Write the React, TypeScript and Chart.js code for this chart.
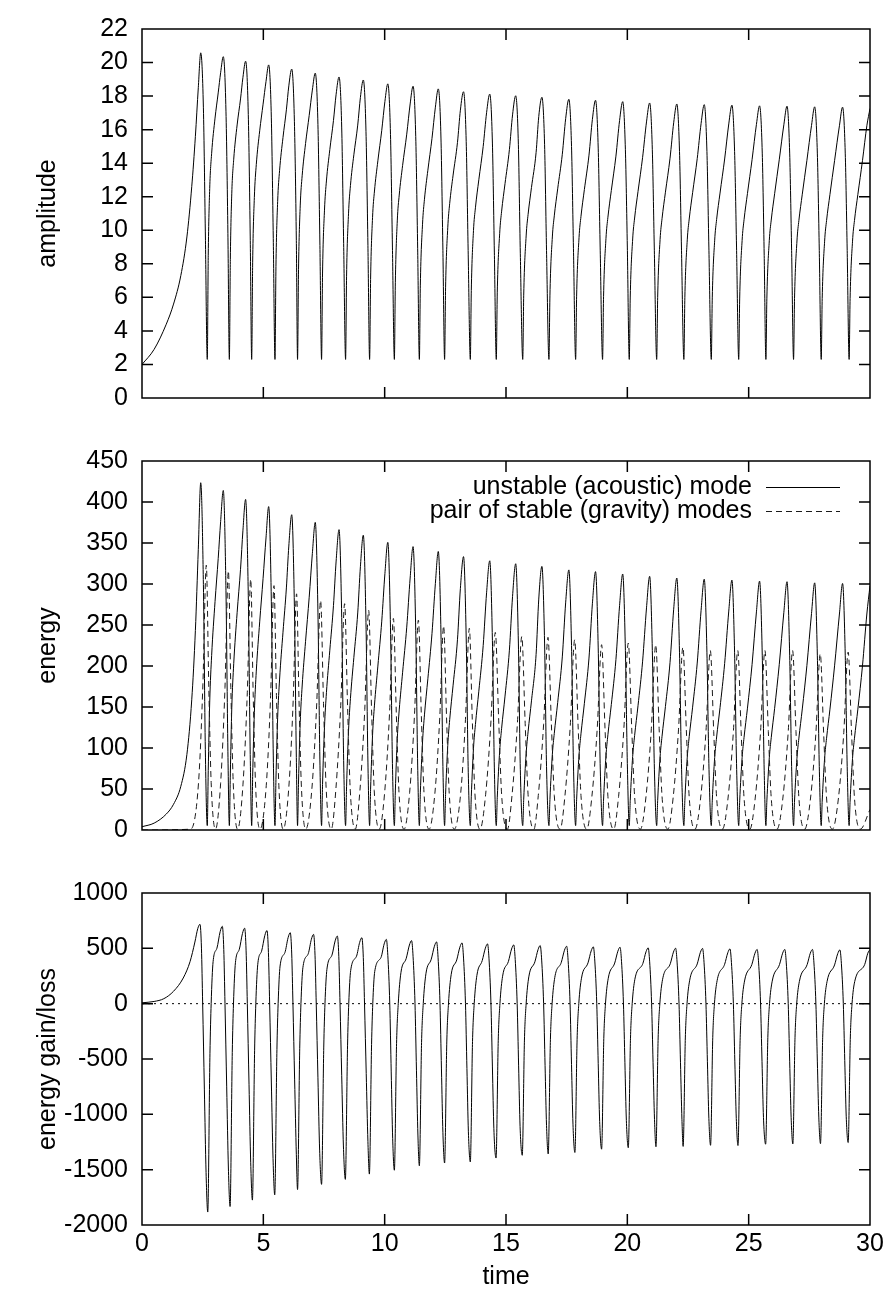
import { useEffect, useRef } from "react";
import { Chart, registerables } from "chart.js";

Chart.register(...registerables);

const FONT_FAMILY = '"Liberation Sans", Arial, Helvetica, sans-serif';
const FONT_SIZE = 25;

// ---- axis ticks ----
const timeTicks = [0, 5, 10, 15, 20, 25, 30];
const amplitudeTicks = [0, 2, 4, 6, 8, 10, 12, 14, 16, 18, 20, 22];
const energyTicks = [0, 50, 100, 150, 200, 250, 300, 350, 400, 450];
const gainTicks = [-2000, -1500, -1000, -500, 0, 500, 1000];

const seriesLabels = ["unstable (acoustic) mode", "pair of stable (gravity) modes"];

// ---- amplitude of the unstable mode (time, value); energy shares the same times ----
const amplitudeTime = [
  0, 0.5, 1.0, 1.3, 1.6, 1.85, 2.05, 2.2, 2.32, 2.42,
  2.53, 2.61, 2.69,
  2.73, 2.79, 2.87, 3.01, 3.14, 3.24, 3.35, 3.46, 3.54, 3.60,
  3.64, 3.70, 3.78, 3.92, 4.06, 4.16, 4.27, 4.38, 4.46, 4.52,
  4.56, 4.63, 4.71, 4.85, 4.99, 5.11, 5.22, 5.33, 5.41, 5.48,
  5.52, 5.59, 5.67, 5.81, 5.95, 6.05, 6.17, 6.28, 6.36, 6.41,
  6.45, 6.52, 6.60, 6.74, 6.89, 7.02, 7.14, 7.25, 7.33, 7.40,
  7.44, 7.52, 7.60, 7.74, 7.89, 8.00, 8.12, 8.23, 8.31, 8.39,
  8.43, 8.51, 8.59, 8.73, 8.89, 9.00, 9.12, 9.23, 9.31, 9.38,
  9.42, 9.50, 9.58, 9.72, 9.88, 10.01, 10.13, 10.24, 10.32, 10.40,
  10.44, 10.52, 10.60, 10.74, 10.91, 11.05, 11.17, 11.28, 11.36, 11.43,
  11.47, 11.56, 11.64, 11.78, 11.95, 12.09, 12.21, 12.32, 12.40, 12.47,
  12.51, 12.60, 12.68, 12.82, 13.00, 13.12, 13.25, 13.36, 13.44, 13.53,
  13.57, 13.66, 13.74, 13.88, 14.06, 14.20, 14.33, 14.44, 14.52, 14.60,
  14.64, 14.74, 14.82, 14.96, 15.14, 15.27, 15.40, 15.51, 15.59, 15.69,
  15.73, 15.83, 15.91, 16.05, 16.24, 16.35, 16.48, 16.59, 16.67, 16.77,
  16.81, 16.91, 16.99, 17.13, 17.32, 17.46, 17.59, 17.70, 17.78, 17.87,
  17.91, 18.01, 18.09, 18.23, 18.42, 18.56, 18.69, 18.80, 18.88, 18.98,
  19.02, 19.12, 19.20, 19.34, 19.53, 19.68, 19.81, 19.92, 20.00, 20.08,
  20.12, 20.22, 20.30, 20.44, 20.63, 20.79, 20.92, 21.03, 21.11, 21.21,
  21.25, 21.35, 21.43, 21.57, 21.76, 21.91, 22.04, 22.15, 22.23, 22.33,
  22.37, 22.47, 22.55, 22.69, 22.88, 23.04, 23.17, 23.28, 23.36, 23.46,
  23.50, 23.60, 23.68, 23.82, 24.01, 24.18, 24.31, 24.42, 24.50, 24.59,
  24.63, 24.73, 24.81, 24.95, 25.14, 25.32, 25.45, 25.56, 25.64, 25.71,
  25.75, 25.85, 25.93, 26.07, 26.26, 26.45, 26.58, 26.69, 26.77, 26.85,
  26.89, 26.99, 27.07, 27.21, 27.40, 27.59, 27.72, 27.83, 27.91, 27.99,
  28.03, 28.13, 28.21, 28.35, 28.54, 28.74, 28.87, 28.98, 29.06, 29.14,
  29.18, 29.28, 29.36, 29.50, 29.69, 29.87, 30.00,
];

const amplitudeValue = [
  2.0, 2.9, 4.4, 5.6, 7.3, 9.6, 12.6, 15.6, 18.5, 20.58,
  17.3, 9.9, 2.3,
  8.51, 12.49, 14.59, 16.69, 18.19, 19.39, 20.35, 17.1, 9.8, 2.3,
  8.27, 12.21, 14.24, 16.28, 17.83, 19.12, 20.08, 16.9, 9.6, 2.3,
  8.06, 11.96, 13.92, 15.93, 17.52, 18.87, 19.86, 16.7, 9.5, 2.3,
  7.84, 11.71, 13.57, 15.53, 17.18, 18.61, 19.61, 16.5, 9.4, 2.3,
  7.65, 11.45, 13.25, 15.17, 16.85, 18.36, 19.37, 16.3, 9.3, 2.3,
  7.45, 11.20, 12.94, 14.81, 16.54, 18.11, 19.14, 16.1, 9.2, 2.3,
  7.26, 10.98, 12.67, 14.50, 16.27, 17.92, 18.96, 15.9, 9.1, 2.3,
  7.06, 10.75, 12.34, 14.14, 15.96, 17.68, 18.73, 15.7, 9.0, 2.3,
  6.90, 10.56, 12.10, 13.87, 15.73, 17.53, 18.59, 15.6, 8.9, 2.3,
  6.73, 10.36, 11.85, 13.58, 15.48, 17.34, 18.43, 15.5, 8.8, 2.3,
  6.57, 10.15, 11.60, 13.29, 15.23, 17.16, 18.26, 15.3, 8.8, 2.3,
  6.41, 9.98, 11.34, 13.01, 15.00, 17.01, 18.12, 15.2, 8.7, 2.3,
  6.27, 9.82, 11.14, 12.78, 14.81, 16.88, 18.02, 15.1, 8.6, 2.3,
  6.13, 9.66, 10.94, 12.55, 14.63, 16.78, 17.93, 15.1, 8.8, 2.3,
  6.09, 9.60, 10.86, 12.47, 14.53, 16.67, 17.81, 15.0, 8.9, 2.3,
  6.07, 9.57, 10.83, 12.43, 14.48, 16.61, 17.75, 14.9, 9.0, 2.3,
  6.04, 9.52, 10.78, 12.37, 14.42, 16.54, 17.67, 14.8, 9.0, 2.3,
  6.02, 9.48, 10.73, 12.31, 14.35, 16.46, 17.59, 14.8, 9.0, 2.3,
  6.00, 9.45, 10.69, 12.27, 14.30, 16.41, 17.53, 14.7, 9.0, 2.3,
  5.98, 9.43, 10.67, 12.24, 14.27, 16.37, 17.49, 14.7, 9.0, 2.3,
  5.97, 9.41, 10.65, 12.22, 14.25, 16.34, 17.46, 14.7, 9.0, 2.3,
  5.96, 9.39, 10.63, 12.19, 14.21, 16.31, 17.42, 14.6, 8.5, 2.3,
  5.95, 9.38, 10.61, 12.18, 14.20, 16.29, 17.40, 14.6, 8.8, 2.3,
  5.94, 9.36, 10.59, 12.15, 14.17, 16.25, 17.36, 14.6, 8.8, 2.3,
  5.93, 9.35, 10.58, 12.14, 14.15, 16.23, 17.34, 14.6, 8.8, 2.3,
  5.93, 9.35, 10.58, 12.14, 14.15, 16.23, 17.26,
];

const energyValue = [
  4.0, 8.4, 19.4, 31.4, 53.3, 92.2, 158.8, 243.4, 342.3, 423.5,
  299.3, 98.0, 5.3,
  72.4, 156.0, 212.9, 278.6, 330.9, 376.0, 414.1, 292.4, 96.0, 5.3,
  68.4, 149.1, 202.8, 265.0, 317.9, 365.6, 403.2, 285.6, 92.2, 5.3,
  65.0, 143.0, 193.8, 253.8, 306.9, 356.1, 394.4, 278.9, 90.3, 5.3,
  61.5, 137.1, 184.1, 241.2, 295.2, 346.3, 384.5, 272.3, 88.4, 5.3,
  58.5, 131.1, 175.6, 230.1, 283.9, 337.1, 375.2, 265.7, 86.5, 5.3,
  55.5, 125.4, 167.4, 219.3, 273.6, 328.0, 366.3, 259.2, 84.6, 5.3,
  52.7, 120.6, 160.5, 210.3, 264.7, 321.1, 359.5, 252.8, 82.8, 5.3,
  49.8, 115.6, 152.3, 199.9, 254.7, 312.6, 350.8, 246.5, 81.0, 5.3,
  47.6, 111.5, 146.4, 192.4, 247.4, 307.3, 345.6, 243.4, 79.2, 5.3,
  45.3, 107.3, 140.4, 184.4, 239.6, 300.7, 339.7, 240.3, 77.4, 5.3,
  43.2, 103.0, 134.6, 176.6, 232.0, 294.5, 333.4, 234.1, 77.4, 5.3,
  41.1, 99.6, 128.6, 169.3, 225.0, 289.3, 328.3, 231.0, 75.7, 5.3,
  39.3, 96.4, 124.1, 163.3, 219.3, 284.9, 324.7, 228.0, 74.0, 5.3,
  37.6, 93.3, 119.7, 157.5, 214.0, 281.6, 321.5, 228.0, 77.4, 5.3,
  37.1, 92.2, 117.9, 155.5, 211.1, 277.9, 317.2, 225.0, 79.2, 5.3,
  36.8, 91.6, 117.3, 154.5, 209.7, 275.9, 315.1, 222.0, 81.0, 5.3,
  36.5, 90.6, 116.2, 153.0, 207.9, 273.6, 312.2, 219.0, 81.0, 5.3,
  36.2, 89.9, 115.1, 151.5, 205.9, 270.9, 309.4, 219.0, 81.0, 5.3,
  36.0, 89.3, 114.3, 150.6, 204.5, 269.3, 307.3, 216.1, 81.0, 5.3,
  35.8, 88.9, 113.8, 149.8, 203.6, 268.0, 305.9, 216.1, 81.0, 5.3,
  35.6, 88.5, 113.4, 149.3, 203.1, 267.0, 304.8, 216.1, 81.0, 5.3,
  35.5, 88.2, 113.0, 148.6, 201.9, 266.0, 303.5, 213.2, 72.3, 5.3,
  35.4, 88.0, 112.6, 148.4, 201.6, 265.4, 302.8, 213.2, 77.4, 5.3,
  35.3, 87.6, 112.1, 147.6, 200.8, 264.1, 301.4, 213.2, 77.4, 5.3,
  35.2, 87.4, 111.9, 147.4, 200.2, 263.4, 300.7, 213.2, 77.4, 5.3,
  35.2, 87.4, 111.9, 147.4, 200.2, 263.4, 297.9,
];

// ---- energy of the pair of stable (gravity) modes ----
const gravityTime = [
  0, 2.0,
  2.33, 2.51, 2.65, 2.75, 2.85, 3.03,
  3.24, 3.42, 3.56, 3.66, 3.76, 3.94,
  4.16, 4.34, 4.48, 4.58, 4.68, 4.86,
  5.12, 5.30, 5.44, 5.54, 5.64, 5.82,
  6.05, 6.23, 6.37, 6.47, 6.57, 6.75,
  7.00, 7.20, 7.36, 7.48, 7.59, 7.80,
  7.99, 8.19, 8.35, 8.47, 8.58, 8.79,
  8.98, 9.18, 9.34, 9.46, 9.57, 9.78,
  10.00, 10.20, 10.36, 10.48, 10.59, 10.80,
  11.03, 11.23, 11.39, 11.51, 11.62, 11.83,
  12.07, 12.27, 12.43, 12.55, 12.66, 12.87,
  13.13, 13.33, 13.49, 13.61, 13.72, 13.93,
  14.16, 14.38, 14.56, 14.70, 14.82, 15.06,
  15.25, 15.47, 15.65, 15.79, 15.91, 16.15,
  16.33, 16.55, 16.73, 16.87, 16.99, 17.23,
  17.43, 17.65, 17.83, 17.97, 18.09, 18.33,
  18.54, 18.76, 18.94, 19.08, 19.20, 19.44,
  19.64, 19.86, 20.04, 20.18, 20.30, 20.54,
  20.77, 20.99, 21.17, 21.31, 21.43, 21.67,
  21.89, 22.11, 22.29, 22.43, 22.55, 22.79,
  23.02, 23.24, 23.42, 23.56, 23.68, 23.92,
  24.15, 24.37, 24.55, 24.69, 24.81, 25.05,
  25.27, 25.49, 25.67, 25.81, 25.93, 26.17,
  26.41, 26.63, 26.81, 26.95, 27.07, 27.31,
  27.55, 27.77, 27.95, 28.09, 28.21, 28.45,
  28.70, 28.92, 29.10, 29.24, 29.36, 29.60,
  30.00,
];

const gravityValue = [
  0, 1,
  58, 178, 323, 178, 58, 1,
  57, 174, 316, 174, 57, 1,
  55, 168, 306, 168, 55, 1,
  54, 164, 298, 164, 54, 1,
  52, 158, 288, 158, 52, 1,
  50, 154, 280, 154, 50, 1,
  50, 152, 276, 152, 50, 1,
  48, 147, 268, 147, 48, 1,
  46, 142, 258, 142, 46, 1,
  46, 141, 256, 141, 46, 1,
  45, 137, 249, 137, 45, 1,
  44, 135, 246, 135, 44, 1,
  43, 133, 241, 133, 43, 1,
  43, 130, 236, 130, 43, 1,
  42, 129, 235, 129, 42, 1,
  42, 128, 232, 128, 42, 1,
  41, 124, 226, 124, 41, 1,
  41, 125, 228, 125, 41, 1,
  41, 124, 226, 124, 41, 1,
  40, 123, 223, 123, 40, 1,
  39, 120, 219, 120, 39, 1,
  39, 120, 219, 120, 39, 1,
  39, 120, 219, 120, 39, 1,
  39, 120, 219, 120, 39, 1,
  39, 118, 215, 118, 39, 1,
  39, 119, 217, 119, 39, 1,
  25,
];

// ---- energy gain/loss of the unstable mode ----
const gainTime = [
  0, 0.5, 0.9, 1.3, 1.7, 1.98, 2.18, 2.30, 2.39,
  2.45, 2.50, 2.57, 2.64, 2.71, 2.80, 2.85, 2.93, 3.09, 3.22, 3.31,
  3.37, 3.42, 3.49, 3.56, 3.63, 3.72, 3.77, 3.85, 4.01, 4.14, 4.23,
  4.29, 4.34, 4.41, 4.48, 4.55, 4.64, 4.69, 4.77, 4.93, 5.06, 5.15,
  5.21, 5.26, 5.33, 5.40, 5.47, 5.56, 5.61, 5.69, 5.89, 6.02, 6.11,
  6.17, 6.22, 6.29, 6.36, 6.41, 6.50, 6.55, 6.63, 6.85, 6.98, 7.07,
  7.13, 7.18, 7.25, 7.32, 7.40, 7.49, 7.54, 7.62, 7.83, 7.96, 8.05,
  8.11, 8.16, 8.23, 8.30, 8.38, 8.47, 8.52, 8.60, 8.84, 8.97, 9.06,
  9.12, 9.17, 9.24, 9.31, 9.37, 9.46, 9.51, 9.59, 9.85, 9.98, 10.07,
  10.13, 10.21, 10.27, 10.33, 10.40, 10.49, 10.56, 10.67, 10.89, 11.02, 11.11,
  11.17, 11.25, 11.31, 11.37, 11.43, 11.52, 11.59, 11.70, 11.92, 12.05, 12.14,
  12.20, 12.28, 12.34, 12.40, 12.47, 12.56, 12.63, 12.74, 12.97, 13.10, 13.19,
  13.25, 13.33, 13.39, 13.45, 13.53, 13.62, 13.69, 13.80, 14.02, 14.15, 14.24,
  14.30, 14.38, 14.44, 14.50, 14.59, 14.68, 14.75, 14.86, 15.10, 15.23, 15.32,
  15.38, 15.46, 15.52, 15.58, 15.67, 15.76, 15.83, 15.94, 16.19, 16.32, 16.41,
  16.47, 16.55, 16.61, 16.67, 16.74, 16.83, 16.90, 17.01, 17.28, 17.41, 17.50,
  17.56, 17.64, 17.70, 17.76, 17.84, 17.93, 18.00, 18.11, 18.38, 18.51, 18.60,
  18.66, 18.74, 18.80, 18.86, 18.94, 19.03, 19.10, 19.21, 19.48, 19.61, 19.70,
  19.76, 19.84, 19.90, 19.96, 20.04, 20.13, 20.20, 20.31, 20.64, 20.77, 20.86,
  20.92, 21.00, 21.06, 21.12, 21.18, 21.27, 21.34, 21.45, 21.77, 21.90, 21.99,
  22.05, 22.13, 22.19, 22.25, 22.30, 22.39, 22.46, 22.57, 22.88, 23.01, 23.10,
  23.16, 23.24, 23.30, 23.36, 23.43, 23.52, 23.59, 23.70, 24.01, 24.14, 24.23,
  24.29, 24.37, 24.43, 24.49, 24.56, 24.65, 24.72, 24.83, 25.13, 25.26, 25.35,
  25.41, 25.49, 25.55, 25.61, 25.70, 25.79, 25.86, 25.97, 26.27, 26.40, 26.49,
  26.55, 26.63, 26.69, 26.75, 26.82, 26.91, 26.98, 27.09, 27.41, 27.54, 27.63,
  27.69, 27.77, 27.83, 27.89, 27.96, 28.05, 28.12, 28.23, 28.54, 28.67, 28.76,
  28.82, 28.90, 28.96, 29.02, 29.10, 29.19, 29.26, 29.37, 29.78, 29.91, 30.00,
];

const gainValue = [
  8, 20, 45, 112, 232, 380, 557, 680, 717,
  502, 0, -772, -1525, -1883, -452, 0, 380, 503, 650, 699,
  489, 0, -752, -1485, -1833, -440, 0, 370, 491, 634, 682,
  477, 0, -728, -1438, -1775, -426, 0, 355, 476, 615, 661,
  463, 0, -708, -1400, -1728, -415, 0, 340, 462, 596, 641,
  449, 0, -689, -1361, -1680, -403, 0, 325, 451, 582, 626,
  438, 0, -670, -1323, -1633, -392, 0, 310, 440, 568, 611,
  428, 0, -651, -1286, -1588, -381, 0, 300, 429, 554, 596,
  417, 0, -631, -1247, -1540, -370, 0, 290, 418, 540, 581,
  436, 0, -617, -1219, -1505, -361, 0, 280, 410, 530, 570,
  428, 0, -601, -1187, -1465, -352, 0, 270, 402, 519, 558,
  419, 0, -590, -1166, -1440, -346, 0, 262, 395, 511, 549,
  412, 0, -586, -1158, -1430, -343, 0, 255, 389, 502, 540,
  405, 0, -572, -1130, -1395, -335, 0, 248, 382, 494, 531,
  398, 0, -562, -1110, -1370, -329, 0, 242, 378, 488, 525,
  394, 0, -557, -1100, -1358, -326, 0, 236, 374, 483, 519,
  389, 0, -551, -1089, -1345, -323, 0, 230, 369, 477, 513,
  385, 0, -539, -1065, -1315, -316, 0, 225, 367, 474, 510,
  383, 0, -534, -1055, -1302, -312, 0, 220, 363, 469, 504,
  378, 0, -530, -1047, -1293, -310, 0, 216, 361, 466, 501,
  376, 0, -529, -1045, -1290, -310, 0, 212, 359, 464, 499,
  374, 0, -525, -1037, -1280, -307, 0, 208, 356, 460, 495,
  371, 0, -526, -1038, -1282, -308, 0, 205, 353, 456, 490,
  368, 0, -521, -1029, -1270, -305, 0, 203, 353, 456, 490,
  368, 0, -520, -1027, -1268, -304, 0, 201, 353, 456, 490,
  368, 0, -519, -1025, -1265, -304, 0, 200, 350, 452, 486,
  365, 0, -515, -1017, -1255, -301, 0, 200, 353, 456, 490,
];

// dotted zero reference in the gain/loss panel
const zeroLineTime = [0, 30];
const zeroLineValue = [0, 0];

const toPoints = (xs: number[], ys: number[]) => xs.map((x, i) => ({ x, y: ys[i] }));

const font = { family: FONT_FAMILY, size: FONT_SIZE };

// Closed frame with inward tick marks on all four sides.
const framePlugin = {
  id: "frameTicks",
  afterDatasetsDraw(chart: any) {
    const { ctx, chartArea: a, scales } = chart;
    const xs = scales.x;
    const ys = scales.y;
    const len = 11;
    ctx.save();
    ctx.strokeStyle = "#000";
    ctx.lineWidth = 1.5;
    ctx.setLineDash([]);
    ctx.beginPath();
    xs.ticks.forEach((t: any) => {
      const px = xs.getPixelForValue(t.value);
      if (px <= a.left + 1 || px >= a.right - 1) return;
      ctx.moveTo(px, a.bottom);
      ctx.lineTo(px, a.bottom - len);
      ctx.moveTo(px, a.top);
      ctx.lineTo(px, a.top + len);
    });
    ys.ticks.forEach((t: any) => {
      const py = ys.getPixelForValue(t.value);
      if (py <= a.top + 1 || py >= a.bottom - 1) return;
      ctx.moveTo(a.left, py);
      ctx.lineTo(a.left + len, py);
      ctx.moveTo(a.right, py);
      ctx.lineTo(a.right - len, py);
    });
    ctx.stroke();
    ctx.strokeRect(a.left, a.top, a.right - a.left, a.bottom - a.top);
    ctx.restore();
  },
};

// Key in the upper right corner: right-aligned text followed by a line sample.
const keyPlugin = {
  id: "cornerKey",
  afterDatasetsDraw(chart: any) {
    const { ctx, chartArea: a } = chart;
    ctx.save();
    ctx.font = `${FONT_SIZE}px ${FONT_FAMILY}`;
    ctx.textAlign = "right";
    ctx.textBaseline = "alphabetic";
    ctx.fillStyle = "#000";
    let row = 0;
    chart.data.datasets.forEach((ds: any) => {
      if (!ds.label) return;
      const y = a.top + 25.5 + row * 24;
      ctx.fillText(ds.label, a.right - 118, y + 7);
      ctx.strokeStyle = ds.borderColor;
      ctx.lineWidth = 1;
      ctx.setLineDash(ds.borderDash || []);
      ctx.beginPath();
      ctx.moveTo(a.right - 104, Math.round(y) + 0.5);
      ctx.lineTo(a.right - 30, Math.round(y) + 0.5);
      ctx.stroke();
      row += 1;
    });
    ctx.restore();
  },
};

type PanelSpec = {
  datasets: any[];
  yTicks: number[];
  yTitle: string;
  showTime: boolean;
  xHeight: number;
  topPad: number;
  plugins: any[];
};

function buildPanel(canvas: HTMLCanvasElement, spec: PanelSpec) {
  const yMin = spec.yTicks[0];
  const yMax = spec.yTicks[spec.yTicks.length - 1];
  return new Chart(canvas, {
    type: "line",
    data: { datasets: spec.datasets },
    plugins: spec.plugins,
    options: {
      animation: false,
      responsive: false,
      maintainAspectRatio: false,
      devicePixelRatio: 1,
      parsing: false,
      layout: { padding: { top: spec.topPad, right: 18, left: 0, bottom: 0 } },
      plugins: {
        legend: { display: false },
        tooltip: { enabled: false },
        title: { display: false },
      },
      elements: {
        point: { radius: 0, hoverRadius: 0 },
        line: { borderWidth: 1 },
      },
      scales: {
        x: {
          type: "linear",
          min: 0,
          max: 30,
          afterBuildTicks: (s: any) => {
            s.ticks = timeTicks.map((v) => ({ value: v }));
          },
          afterFit: (s: any) => {
            s.height = spec.xHeight;
          },
          grid: { display: false, drawTicks: false },
          border: { display: false },
          ticks: {
            display: spec.showTime,
            padding: 4,
            color: "#000",
            font,
            maxRotation: 0,
            autoSkip: false,
            callback: (v: any) => String(v),
          },
          title: {
            display: spec.showTime,
            text: "time",
            color: "#000",
            font,
            padding: { top: 0, bottom: 8 },
          },
        },
        y: {
          type: "linear",
          min: yMin,
          max: yMax,
          afterBuildTicks: (s: any) => {
            s.ticks = spec.yTicks.map((v) => ({ value: v }));
          },
          afterFit: (s: any) => {
            s.width = 142;
          },
          grid: { display: false, drawTicks: false },
          border: { display: false },
          ticks: {
            padding: 14,
            color: "#000",
            font,
            autoSkip: false,
            callback: (v: any) => String(v),
          },
          title: {
            display: true,
            text: spec.yTitle,
            color: "#000",
            font,
            padding: { top: 33, bottom: 0 },
          },
        },
      },
    } as any,
  });
}

const lineStyle = {
  borderColor: "#000",
  borderWidth: 1,
  pointRadius: 0,
  cubicInterpolationMode: "monotone" as const,
  fill: false,
};

export default function App() {
  const ampRef = useRef<HTMLCanvasElement | null>(null);
  const energyRef = useRef<HTMLCanvasElement | null>(null);
  const gainRef = useRef<HTMLCanvasElement | null>(null);

  useEffect(() => {
    const charts: Chart[] = [];
    if (ampRef.current) {
      charts.push(
        buildPanel(ampRef.current, {
          datasets: [{ ...lineStyle, data: toPoints(amplitudeTime, amplitudeValue) }],
          yTicks: amplitudeTicks,
          yTitle: "amplitude",
          showTime: false,
          xHeight: 34,
          topPad: 22,
          plugins: [framePlugin],
        })
      );
    }
    if (energyRef.current) {
      charts.push(
        buildPanel(energyRef.current, {
          datasets: [
            {
              ...lineStyle,
              label: seriesLabels[0],
              order: 2,
              data: toPoints(amplitudeTime, energyValue),
            },
            {
              ...lineStyle,
              label: seriesLabels[1],
              order: 1,
              borderColor: "#1a1a1a",
              borderDash: [6, 4],
              data: toPoints(gravityTime, gravityValue),
            },
          ],
          yTicks: energyTicks,
          yTitle: "energy",
          showTime: false,
          xHeight: 34,
          topPad: 22,
          plugins: [framePlugin, keyPlugin],
        })
      );
    }
    if (gainRef.current) {
      charts.push(
        buildPanel(gainRef.current, {
          datasets: [
            { ...lineStyle, data: toPoints(gainTime, gainValue) },
            {
              ...lineStyle,
              cubicInterpolationMode: "default",
              tension: 0,
              borderDash: [2, 4],
              data: toPoints(zeroLineTime, zeroLineValue),
            },
          ],
          yTicks: gainTicks,
          yTitle: "energy gain/loss",
          showTime: true,
          xHeight: 75,
          topPad: 23,
          plugins: [framePlugin],
        })
      );
    }
    return () => {
      charts.forEach((c) => c.destroy());
    };
  }, []);

  const canvasStyle = (top: number, height: number): React.CSSProperties => ({
    position: "absolute",
    left: 0,
    top,
    width: 888,
    height,
    display: "block",
  });

  return (
    <div
      style={{
        position: "absolute",
        left: 0,
        top: 0,
        width: 888,
        height: 1300,
        background: "#fff",
        overflow: "hidden",
      }}
    >
      <canvas ref={ampRef} width={888} height={432} style={canvasStyle(0, 432)} />
      <canvas ref={energyRef} width={888} height={432} style={canvasStyle(432, 432)} />
      <canvas ref={gainRef} width={888} height={436} style={canvasStyle(864, 436)} />
    </div>
  );
}
